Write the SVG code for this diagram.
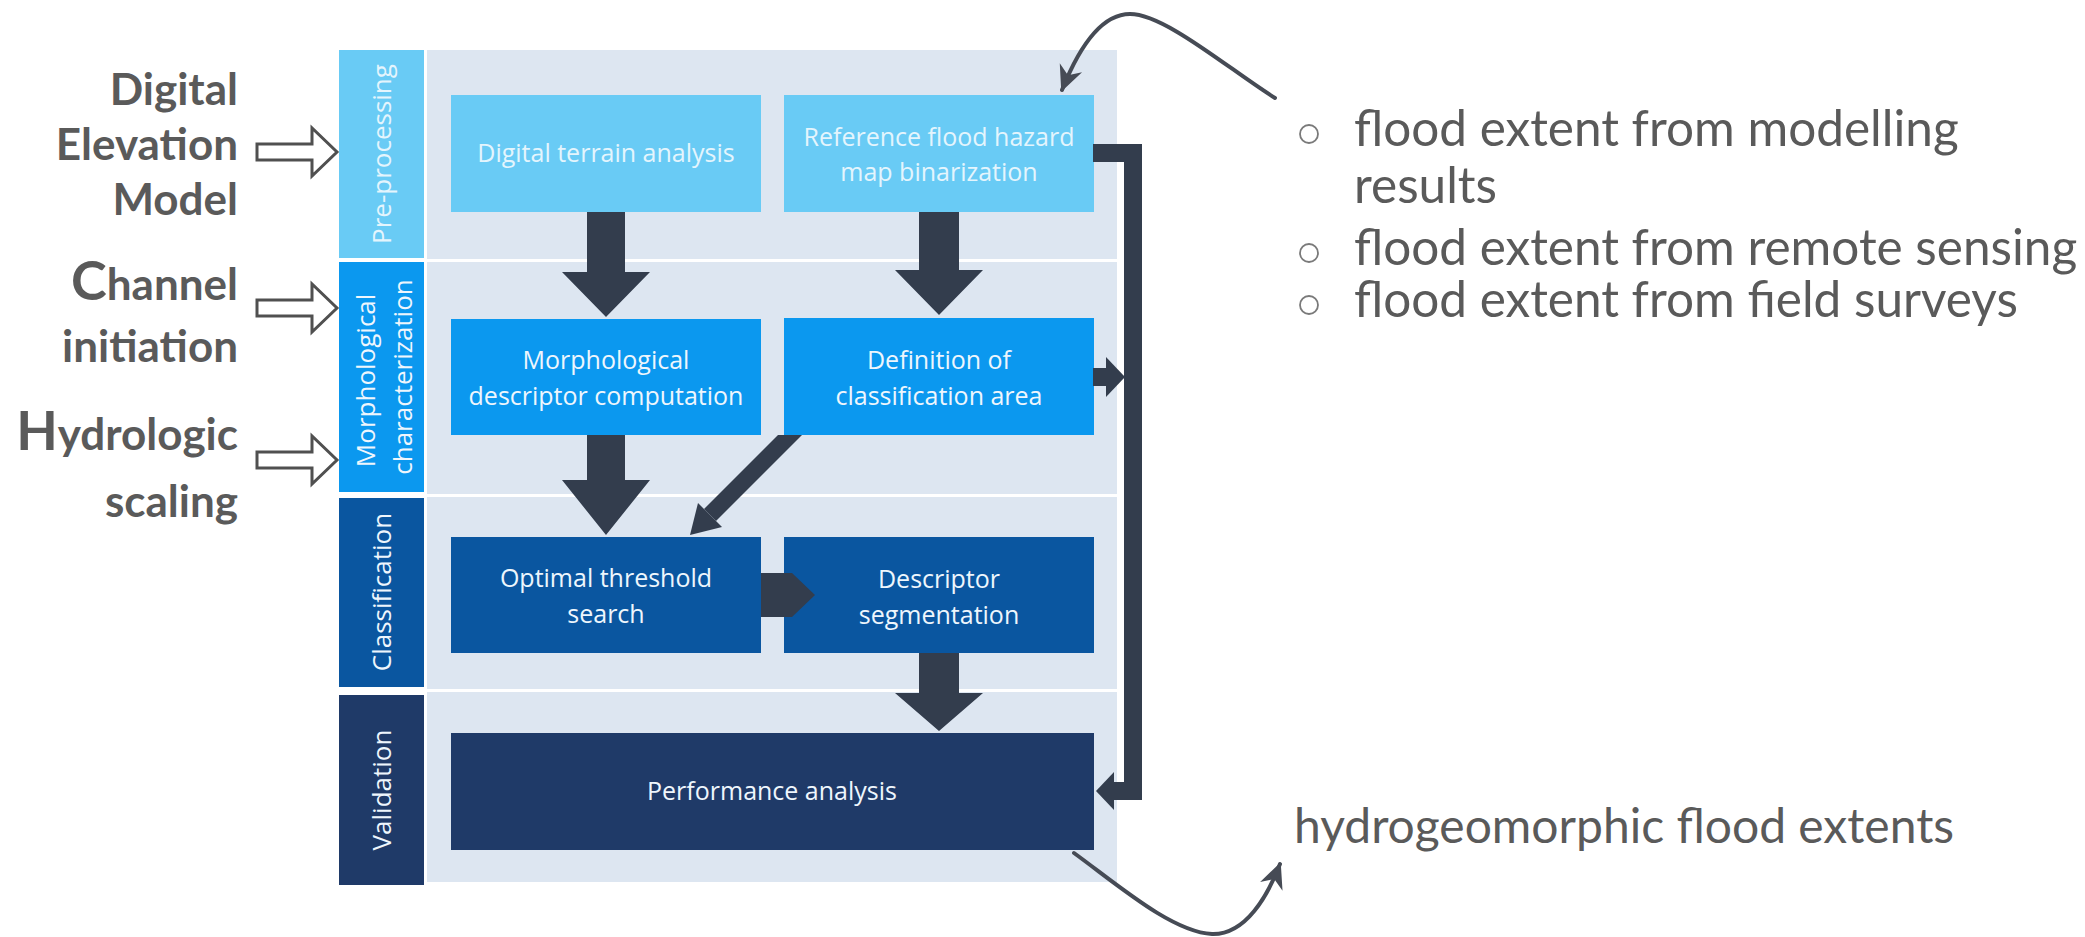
<svg xmlns="http://www.w3.org/2000/svg" width="2085" height="937" viewBox="0 0 2085 937">
  <style>
    .lbl { font-family: "Lato", "Liberation Sans", sans-serif; font-weight: 700; fill: #5a5a5a; font-size: 44px; text-anchor: end; }
    .big { font-size: 54px; }
    .note { font-family: "Lato", "Liberation Sans", sans-serif; fill: #5a5a5a; font-size: 49.5px; }
    .out { font-size: 48px; }
    .box-t { font-family: "Open Sans", "Liberation Sans", sans-serif; font-size: 25px; text-anchor: middle; }
    .side-t { font-family: "Open Sans", "Liberation Sans", sans-serif; font-size: 26px; text-anchor: middle; }
    .c-light { fill: #69cbf5; }
    .c-mid { fill: #0b98ef; }
    .c-class { fill: #0a56a0; }
    .c-valid { fill: #1f3a68; }
    .band { fill: #dde6f1; }
    .t-light { fill: #e4f5fd; }
    .t-white { fill: #eef6fd; }
    .block { fill: #333d4d; }
    .hollow { fill: #ffffff; stroke: #505050; stroke-width: 3; stroke-linejoin: miter; }
    .curve { fill: none; stroke: #464b55; stroke-width: 4; stroke-linecap: round; }
    .bullet { fill: none; stroke: #7a7a7a; stroke-width: 1.8; }
  </style>
  <defs>
    <marker id="barb" markerUnits="userSpaceOnUse" markerWidth="40" markerHeight="40" refX="0" refY="0" viewBox="-30 -20 40 40" orient="auto" overflow="visible">
      <path d="M2,0 L-24,-12 L-16,0 L-24,12 Z" fill="#464b55"/>
    </marker>
  </defs>

  <rect width="2085" height="937" fill="#ffffff"/>

  <!-- stage bands behind the process boxes -->
  <g id="bands">
    <rect class="band" x="427" y="50" width="690" height="209"/>
    <rect class="band" x="427" y="262" width="690" height="232"/>
    <rect class="band" x="427" y="497" width="690" height="192"/>
    <rect class="band" x="427" y="692" width="690" height="190"/>
  </g>

  <!-- stage labels on the left strip -->
  <g id="stage-preprocessing">
    <rect class="c-light" x="339" y="50" width="85" height="208"/>
    <text class="side-t t-light" transform="translate(382,154) rotate(-90)" y="9">Pre-processing</text>
  </g>
  <g id="stage-morphological">
    <rect class="c-mid" x="339" y="262" width="85" height="230"/>
    <text class="side-t t-white" transform="translate(384,377) rotate(-90)">
      <tspan x="0" y="-9">Morphological</tspan>
      <tspan x="0" y="28">characterization</tspan>
    </text>
  </g>
  <g id="stage-classification">
    <rect class="c-class" x="339" y="498" width="85" height="189"/>
    <text class="side-t t-white" transform="translate(382,592) rotate(-90)" y="9">Classification</text>
  </g>
  <g id="stage-validation">
    <rect class="c-valid" x="339" y="695" width="85" height="190"/>
    <text class="side-t t-white" transform="translate(382,790) rotate(-90)" y="9">Validation</text>
  </g>

  <!-- process boxes -->
  <g id="digital-terrain-analysis">
    <rect class="c-light" x="451" y="95" width="310" height="117"/>
    <text class="box-t t-light" x="606" y="162">Digital terrain analysis</text>
  </g>
  <g id="reference-binarization">
    <rect class="c-light" x="784" y="95" width="310" height="117"/>
    <text class="box-t t-light" x="939" y="146">Reference flood hazard</text>
    <text class="box-t t-light" x="939" y="181">map binarization</text>
  </g>
  <g id="descriptor-computation">
    <rect class="c-mid" x="451" y="319" width="310" height="116"/>
    <text class="box-t t-white" x="606" y="369">Morphological</text>
    <text class="box-t t-white" x="606" y="405">descriptor computation</text>
  </g>
  <g id="classification-area">
    <rect class="c-mid" x="784" y="318" width="310" height="117"/>
    <text class="box-t t-white" x="939" y="369">Definition of</text>
    <text class="box-t t-white" x="939" y="405">classification area</text>
  </g>
  <g id="threshold-search">
    <rect class="c-class" x="451" y="537" width="310" height="116"/>
    <text class="box-t t-white" x="606" y="587">Optimal threshold</text>
    <text class="box-t t-white" x="606" y="623">search</text>
  </g>
  <g id="descriptor-segmentation">
    <rect class="c-class" x="784" y="537" width="310" height="116"/>
    <text class="box-t t-white" x="939" y="588">Descriptor</text>
    <text class="box-t t-white" x="939" y="624">segmentation</text>
  </g>
  <g id="performance-analysis">
    <rect class="c-valid" x="451" y="733" width="643" height="117"/>
    <text class="box-t t-white" x="772" y="800">Performance analysis</text>
  </g>

  <!-- input labels -->
  <g id="input-dem">
    <text class="lbl" x="238" y="105">Digital</text>
    <text class="lbl" x="238" y="160">Elevation</text>
    <text class="lbl" x="238" y="215">Model</text>
  </g>
  <g id="input-channel">
    <text class="lbl" x="238" y="300"><tspan class="big">C</tspan>hannel</text>
    <text class="lbl" x="238" y="362">initiation</text>
  </g>
  <g id="input-hydrologic">
    <text class="lbl" x="238" y="450"><tspan class="big">H</tspan>ydrologic</text>
    <text class="lbl" x="238" y="517">scaling</text>
  </g>

  <!-- reference data sources -->
  <g id="reference-sources">
    <circle class="bullet" cx="1309" cy="134" r="9"/>
    <text class="note" x="1354" y="146">flood extent from modelling</text>
    <text class="note" x="1354" y="203">results</text>
    <circle class="bullet" cx="1309" cy="253" r="9"/>
    <text class="note" x="1354" y="265">flood extent from remote sensing</text>
    <circle class="bullet" cx="1309" cy="305" r="9"/>
    <text class="note" x="1354" y="317">flood extent from field surveys</text>
  </g>
  <g id="output-extents">
    <text class="note out" x="1294" y="843">hydrogeomorphic flood extents</text>
  </g>

  <!-- connectors -->
  <g id="connectors">
    <!-- input arrows -->
    <polygon class="hollow" points="257,144 312,144 312,128 337,152 312,176 312,160 257,160"/>
    <polygon class="hollow" points="257,300 312,300 312,284 337,308 312,332 312,316 257,316"/>
    <polygon class="hollow" points="257,452 312,452 312,436 337,460 312,484 312,468 257,468"/>

    <!-- vertical block arrows -->
    <polygon class="block" points="587,212 625,212 625,272 650,272 606,317 562,272 587,272"/>
    <polygon class="block" points="587,435 625,435 625,480 650,480 606,535 562,480 587,480"/>
    <polygon class="block" points="919,212 959,212 959,270 983,270 939,315 895,270 919,270"/>
    <polygon class="block" points="919,653 959,653 959,693 983,693 939,731 895,693 919,693"/>

    <!-- diagonal arrow into threshold search -->
    <polygon class="block" points="778,435 802,435 716,521 704,509"/>
    <polygon class="block" points="690,535 722,527 698,503"/>

    <!-- threshold search to segmentation -->
    <polygon class="block" points="761,573 792,573 815,595 792,617 761,617"/>

    <!-- side feedback line to validation -->
    <path d="M1093,153 H1133 V791 H1110" fill="none" stroke="#333d4d" stroke-width="18" stroke-linejoin="miter"/>
    <rect class="block" x="1093" y="368" width="16" height="18"/>
    <polygon class="block" points="1106,357 1125,377 1106,397"/>
    <polygon class="block" points="1096,791 1114,772 1114,810"/>

    <!-- curved links to reference sources and outputs -->
    <path class="curve" d="M1275,98 C1230,70 1165,14 1130,14 C1100,14 1078,50 1062,90" marker-end="url(#barb)"/>
    <path class="curve" d="M1074,853 C1118,885 1172,932 1212,934 C1246,935 1268,895 1280,864" marker-end="url(#barb)"/>
  </g>
</svg>
